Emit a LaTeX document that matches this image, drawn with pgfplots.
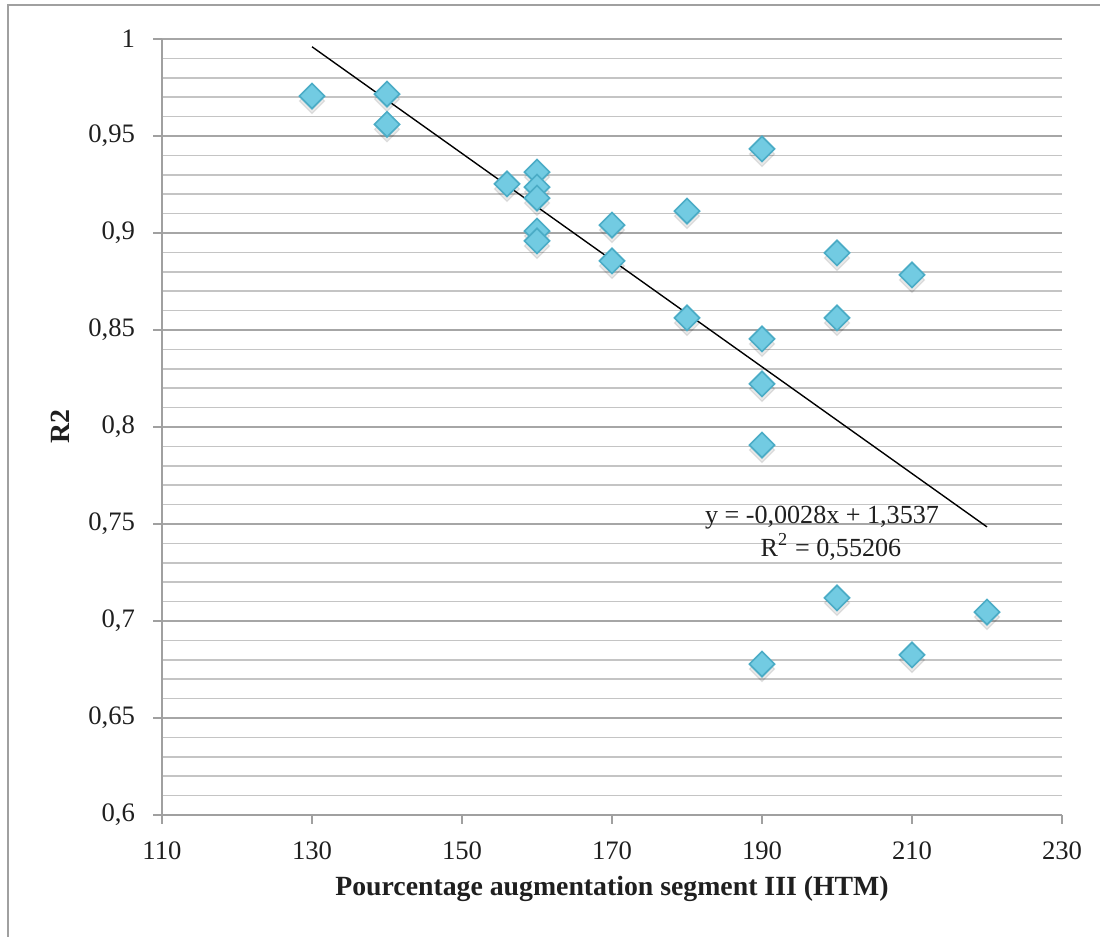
\documentclass[border=0pt]{standalone}
\usepackage{pgfplots}
\pgfplotsset{compat=1.18}
\usepackage{fontspec}
\setmainfont{Liberation Serif}
\definecolor{majgrid}{HTML}{A6A6A6}
\definecolor{mingrid}{HTML}{C4C4C4}
\definecolor{axgray}{HTML}{A0A0A0}
\definecolor{mkfill}{HTML}{72CBE2}
\definecolor{mkdraw}{HTML}{4BACC6}
\begin{document}
\begin{tikzpicture}
\useasboundingbox (0,0) rectangle (399.6pt,337.32pt);
\draw[axgray, line width=0.6pt] (2.88pt,0) -- (2.88pt,335.5pt) -- (396pt,335.5pt);
\begin{axis}[
  at={(58.32pt,43.92pt)}, anchor=south west,
  scale only axis, width=324pt, height=279.36pt,
  xmin=110, xmax=230, ymin=0.6, ymax=1,
  xtick={110,130,...,230},
  ytick={0.6,0.65,...,1.01},
  minor y tick num=4,
  axis x line=bottom, axis y line=left,
  axis line style={axgray, line width=0.7pt, -},
  tick style={axgray, line width=0.7pt},
  tick align=outside,
  major tick length=3.2pt, minor tick length=0pt,
  ymajorgrids, yminorgrids,
  major grid style={majgrid, line width=0.7pt},
  minor grid style={mingrid, line width=0.6pt},
  /pgf/number format/assume math mode=true,
  yticklabel style={/pgf/number format/.cd, use comma, fixed, precision=2, /tikz/.cd, xshift=-3pt},
  xticklabel style={/pgf/number format/.cd, fixed, 1000 sep={}, /tikz/.cd, yshift=-3pt},
  tick label style={font=\fontsize{9.6}{11}\selectfont, text=black!88},
  xlabel={\textbf{Pourcentage augmentation segment III (HTM)}},
  ylabel={\textbf{R2}},
  label style={font=\fontsize{10}{12}\selectfont, text=black!88},
  xlabel style={at={(axis description cs:0.5,0)}, anchor=center, yshift=-26.6pt},
  ylabel style={at={(axis description cs:-0.1133,0.5)}, anchor=center},
  clip=false,
]
% shadow
\addplot[only marks, mark=square*, mark size=3.2pt,
  mark options={yshift=-1.8pt, rotate=45, fill=black, draw=none, opacity=0.09}]
  table {
x y
130 0.9706
140 0.9716
140 0.9560
156 0.9253
160 0.9314
160 0.9237
160 0.9180
160 0.9010
160 0.8959
170 0.9041
170 0.8856
180 0.9113
180 0.8562
190 0.9433
190 0.8454
190 0.8222
190 0.7907
190 0.6778
200 0.8897
200 0.8562
200 0.7119
210 0.8784
210 0.6825
220 0.7046
};
\addplot[only marks, mark=square*, mark size=3.2pt,
  mark options={rotate=45, fill=mkfill, draw=mkdraw, line width=0.6pt}]
  table {
x y
130 0.9706
140 0.9716
140 0.9560
156 0.9253
160 0.9314
160 0.9237
160 0.9180
160 0.9010
160 0.8959
170 0.9041
170 0.8856
180 0.9113
180 0.8562
190 0.9433
190 0.8454
190 0.8222
190 0.7907
190 0.6778
200 0.8897
200 0.8562
200 0.7119
210 0.8784
210 0.6825
220 0.7046
};
\addplot[black, line width=0.5pt, no marks] coordinates {(130,0.996) (220,0.7485)};
\node[font=\fontsize{9.4}{11}\selectfont, text=black!88, anchor=center] at (axis cs:198,0.7531) {y = -0,0028x + 1,3537};
\node[font=\fontsize{9.4}{11}\selectfont, text=black!88, anchor=center] at (axis cs:199.2,0.7381) {R\textsuperscript{2} = 0,55206};
\end{axis}
\end{tikzpicture}
\end{document}
